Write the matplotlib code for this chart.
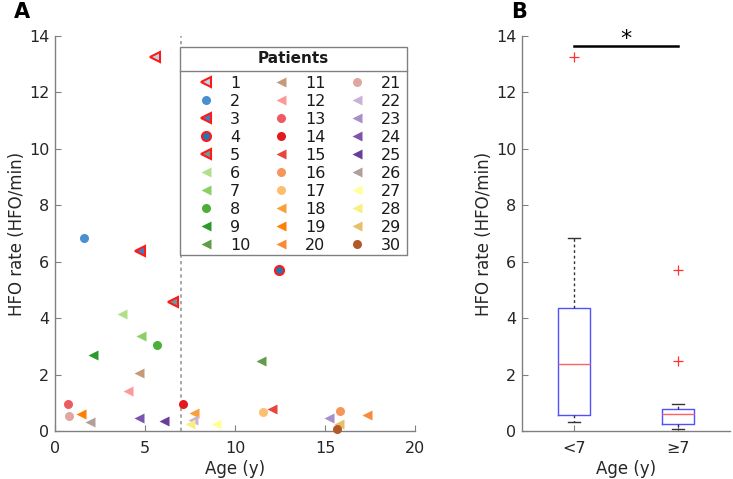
import matplotlib
matplotlib.use("Agg")
import matplotlib.pyplot as plt
import numpy as np
from matplotlib import cbook
from matplotlib.patches import Rectangle
from matplotlib.lines import Line2D

# ---------------- data ----------------
patients = list(range(1, 31))
age = [5.56, 1.61, 4.72, 12.43, 6.57, 3.74, 4.78, 5.65, 2.09, 11.43,
       4.68, 4.04, 0.71, 7.09, 12.04, 15.83, 11.57, 7.74, 1.44, 17.31,
       0.78, 7.65, 15.22, 4.68, 6.06, 1.96, 8.93, 7.50, 15.78, 15.68]
hfo_rate = [13.26, 6.84, 6.39, 5.72, 4.57, 4.14, 3.38, 3.05, 2.68, 2.48,
            2.05, 1.43, 0.97, 0.97, 0.77, 0.72, 0.68, 0.65, 0.62, 0.58,
            0.53, 0.39, 0.47, 0.45, 0.37, 0.32, 0.25, 0.24, 0.25, 0.07]
markers = ['<', 'o', '<', 'o', '<', '<', '<', 'o', '<', '<',
           '<', '<', 'o', 'o', '<', 'o', 'o', '<', '<', '<',
           'o', '<', '<', '<', '<', '<', '<', '<', '<', 'o']
colors = ['#b9d8ec', '#4a90d0', '#3a7fc0', '#1f78b4', '#6a9a9a',
          '#b2df8a', '#8ccf64', '#4daf3a', '#2a9a2a', '#5f9e46',
          '#c39a7a', '#fb9a99', '#ee5a5f', '#e31a1c', '#e8453c',
          '#f8955a', '#fdbf6f', '#fa9f3a', '#ff7f00', '#f98a3a',
          '#e0a6a0', '#cab2d6', '#a88fcc', '#7b55ad', '#6a3d9a',
          '#b39f99', '#ffff99', '#f7ef80', '#e5c068', '#b15928']
red_edge = [1, 3, 4, 5]
age_cut = 7
group_labels = ['<7', '≥7']

plt.rcParams['font.family'] = ['DejaVu Sans']
tick_color = '#262626'
spine_color = '#808080'

fig = plt.figure(figsize=(7.33, 4.79), dpi=100)
axA = fig.add_axes([55/733, 48/479, 360/733, 395/479])
axB = fig.add_axes([522/733, 48/479, 208/733, 395/479])

# ---------------- panel A ----------------
axA.axvline(age_cut, color='#999999', linestyle=(0, (2, 2)), linewidth=1.2, zorder=1)
handles = []
for p, x, y, m, c in zip(patients, age, hfo_rate, markers, colors):
    ms = 6.5 if m == 'o' else 7.5
    if p in red_edge:
        kw = dict(markeredgecolor='#ff1a1a', markeredgewidth=1.5)
    else:
        kw = dict(markeredgecolor='none')
    h, = axA.plot([x], [y], linestyle='none', marker=m, markersize=ms,
                  markerfacecolor=c, label=str(p), zorder=3, clip_on=False, **kw)
    handles.append(h)

axA.set_xlim(0, 20)
axA.set_ylim(0, 14)
axA.set_xticks([0, 5, 10, 15, 20])
axA.set_yticks(np.arange(0, 15, 2))
axA.set_xlabel('Age (y)', fontsize=12, color=tick_color, labelpad=3)
axA.set_ylabel('HFO rate (HFO/min)', fontsize=12, color=tick_color, labelpad=2)

# legend frame and title drawn manually (MATLAB-like legend with title separator)
fx0, fx1, fy0, fy1 = 0.3464, 0.9769, 0.4456, 0.9729
axA.add_patch(Rectangle((fx0, fy0), fx1 - fx0, fy1 - fy0, transform=axA.transAxes,
                        facecolor='white', edgecolor='#808080', linewidth=1.0,
                        zorder=4, clip_on=False))
axA.add_line(Line2D([fx0, fx1], [0.9122, 0.9122], transform=axA.transAxes,
                    color='#808080', linewidth=1.0, zorder=4.5, clip_on=False))
axA.text((fx0 + fx1) / 2, 0.943, 'Patients', transform=axA.transAxes,
         ha='center', va='center', fontsize=11, fontweight='bold',
         color='#1a1a1a', zorder=6)

leg = axA.legend(handles=handles, ncol=3, loc='upper left',
                 bbox_to_anchor=(0.397, 0.9000), fontsize=11.5, frameon=False,
                 borderpad=0, handlelength=1.0, handletextpad=1.0,
                 columnspacing=1.45, labelspacing=0.19, borderaxespad=0)
leg.set_zorder(6)
for t in leg.get_texts():
    t.set_color('#1a1a1a')

# ---------------- panel B ----------------
g1 = [r for a, r in zip(age, hfo_rate) if a < age_cut]
g2 = [r for a, r in zip(age, hfo_rate) if a >= age_cut]

# box statistics with MATLAB-style quartiles ((i-0.5)/n, i.e. Hazen)
stats = []
for g, lab in zip([g1, g2], group_labels):
    d = np.asarray(g)
    st = cbook.boxplot_stats(d, whis=1.5)[0]
    q1, med, q3 = np.percentile(d, [25, 50, 75], method='hazen')
    iqr = q3 - q1
    lo_f, hi_f = q1 - 1.5 * iqr, q3 + 1.5 * iqr
    inside = d[(d >= lo_f) & (d <= hi_f)]
    st.update(q1=q1, med=med, q3=q3, iqr=iqr,
              whislo=inside.min(), whishi=inside.max(),
              fliers=d[(d < lo_f) | (d > hi_f)], label=lab)
    stats.append(st)

axB.bxp(stats, positions=[1, 2], widths=0.3, capwidths=0.12,
        boxprops=dict(color='#5050ff', linewidth=1.0),
        medianprops=dict(color='#ff6060', linewidth=1.0),
        whiskerprops=dict(color='#333333', linestyle=(0, (2, 2)), linewidth=1.0),
        capprops=dict(color='#333333', linewidth=1.0),
        flierprops=dict(marker='+', markeredgecolor='#ff3030', markersize=6.5,
                        linestyle='none', markeredgewidth=0.9))
axB.set_xlim(0.5, 2.5)
axB.set_ylim(0, 14)
axB.set_xticks([1, 2])
axB.set_xticklabels(group_labels)
axB.set_yticks(np.arange(0, 15, 2))
axB.set_xlabel('Age (y)', fontsize=12, color=tick_color, labelpad=3)
axB.set_ylabel('HFO rate (HFO/min)', fontsize=12, color=tick_color, labelpad=2)
axB.plot([1, 2], [13.65, 13.65], color='black', linewidth=1.8, clip_on=False)
axB.text(1.5, 13.9, '*', ha='center', va='center', fontsize=16, color='black')

for ax in (axA, axB):
    for s in ('top', 'right'):
        ax.spines[s].set_visible(False)
    for s in ('left', 'bottom'):
        ax.spines[s].set_color(spine_color)
        ax.spines[s].set_linewidth(1.0)
    ax.tick_params(direction='in', length=4, width=0.8, color=spine_color,
                   labelsize=11.5, labelcolor=tick_color)
    ax.tick_params(axis='y', pad=4)
    ax.tick_params(axis='x', pad=7)

fig.text(14/733, 1 - 12/479, 'A', fontsize=15, fontweight='bold', va='center', ha='left')
fig.text(511/733, 1 - 12/479, 'B', fontsize=15, fontweight='bold', va='center', ha='left')

fig.savefig('out.png', dpi=100)
